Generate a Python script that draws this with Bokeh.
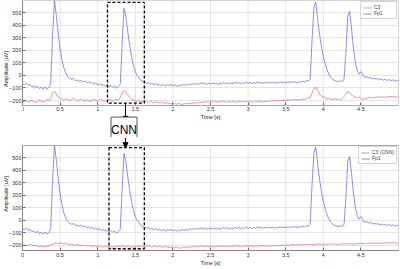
from bokeh.plotting import figure
from bokeh.layouts import column
from bokeh.models import Range1d, FixedTicker, BoxAnnotation, Arrow, NormalHead, Label
from bokeh.embed import file_html
from bokeh.resources import INLINE

time_s = [0.000,0.025,0.050,0.075,0.100,0.125,0.150,0.175,0.200,0.225,0.250,0.275,0.300,0.325,0.350,0.375,0.400,0.425,0.450,0.475,
0.500,0.525,0.550,0.575,0.600,0.625,0.650,0.675,0.700,0.725,0.750,0.775,0.800,0.825,0.850,0.875,0.900,0.925,0.950,0.975,
1.000,1.025,1.050,1.075,1.100,1.125,1.150,1.175,1.200,1.225,1.250,1.275,1.300,1.325,1.350,1.375,1.400,1.425,1.450,1.475,
1.500,1.525,1.550,1.575,1.600,1.625,1.650,1.675,1.700,1.725,1.750,1.775,1.800,1.825,1.850,1.875,1.900,1.925,1.950,1.975,
2.000,2.025,2.050,2.075,2.100,2.125,2.150,2.175,2.200,2.225,2.250,2.275,2.300,2.325,2.350,2.375,2.400,2.425,2.450,2.475,
2.500,2.525,2.550,2.575,2.600,2.625,2.650,2.675,2.700,2.725,2.750,2.775,2.800,2.825,2.850,2.875,2.900,2.925,2.950,2.975,
3.000,3.025,3.050,3.075,3.100,3.125,3.150,3.175,3.200,3.225,3.250,3.275,3.300,3.325,3.350,3.375,3.400,3.425,3.450,3.475,
3.500,3.525,3.550,3.575,3.600,3.625,3.650,3.675,3.700,3.725,3.750,3.775,3.800,3.825,3.850,3.875,3.900,3.925,3.950,3.975,
4.000,4.025,4.050,4.075,4.100,4.125,4.150,4.175,4.200,4.225,4.250,4.275,4.300,4.325,4.350,4.375,4.400,4.425,4.450,4.475,
4.500,4.525,4.550,4.575,4.600,4.625,4.650,4.675,4.700,4.725,4.750,4.775,4.800,4.825,4.850,4.875,4.900,4.925,4.950,4.975,
5.000]

fp1 = [-68,-75,-62,-80,-72,-90,-84,-98,-88,-105,-95,-108,-92,-110,-96,-70,320,600,480,330,
210,125,60,20,-8,-22,-30,-25,-42,-35,-48,-38,-52,-45,-58,-50,-62,-55,-70,-60,
-75,-66,-80,-72,-85,-78,-92,-80,-95,-84,-102,-88,-70,250,535,470,350,240,150,80,
30,0,-20,-40,-48,-55,-62,-58,-70,-62,-75,-66,-78,-70,-82,-72,-85,-74,-80,-70,
-84,-75,-86,-78,-82,-70,-80,-72,-78,-66,-75,-64,-72,-62,-70,-58,-68,-60,-72,-62,
-70,-58,-68,-60,-72,-62,-66,-55,-65,-58,-70,-60,-66,-54,-64,-56,-68,-58,-65,-52,
-62,-55,-66,-56,-63,-52,-60,-54,-64,-55,-62,-52,-60,-54,-62,-55,-60,-50,-58,-52,
-60,-50,-58,-48,-56,-50,-58,-48,-55,-46,-52,-42,-45,-30,280,540,585,450,330,230,
150,95,45,10,-15,-30,-40,-45,-50,-42,-48,-35,180,470,510,380,220,110,40,10,
30,5,-15,-10,-20,-15,-28,-22,-30,-25,-35,-28,-38,-30,-40,-32,-42,-35,-45,-38,
-42]

c3 = [-205,-210,-200,-212,-205,-198,-208,-215,-204,-196,-206,-212,-200,-192,-200,-185,-140,-125,-150,-172,
-180,-188,-195,-185,-192,-200,-190,-182,-195,-205,-196,-188,-198,-205,-194,-200,-208,-198,-190,-200,
-206,-196,-192,-202,-208,-196,-188,-200,-205,-195,-190,-198,-175,-140,-118,-130,-155,-175,-188,-196,
-200,-208,-200,-206,-212,-204,-210,-215,-206,-212,-218,-210,-214,-220,-212,-218,-224,-216,-222,-228,
-220,-226,-230,-222,-228,-232,-224,-228,-222,-226,-218,-224,-216,-222,-212,-218,-210,-216,-208,-214,
-206,-212,-204,-210,-214,-206,-212,-204,-210,-215,-206,-212,-205,-210,-214,-206,-210,-204,-212,-207,
-213,-206,-210,-214,-206,-211,-204,-209,-213,-205,-210,-202,-207,-200,-205,-198,-203,-196,-202,-195,
-200,-194,-199,-192,-198,-191,-196,-190,-195,-188,-193,-186,-180,-175,-140,-105,-95,-120,-148,-165,
-172,-178,-185,-182,-188,-192,-186,-192,-188,-194,-186,-170,-150,-130,-135,-155,-166,-172,-180,-170,
-186,-195,-178,-190,-172,-180,-174,-178,-170,-176,-168,-174,-170,-176,-168,-172,-166,-172,-168,-174,
-170]

c3_cnn = [-200,-196,-202,-198,-192,-197,-203,-199,-205,-210,-204,-208,-212,-206,-202,-196,-190,-185,-180,-186,
-178,-183,-188,-182,-190,-195,-188,-194,-199,-192,-198,-202,-196,-200,-205,-198,-203,-208,-201,-206,
-210,-204,-209,-213,-206,-211,-205,-210,-214,-207,-212,-206,-210,-203,-208,-212,-205,-210,-214,-207,
-211,-204,-208,-202,-207,-211,-204,-200,-206,-210,-203,-208,-212,-206,-210,-215,-208,-212,-218,-211,
-216,-220,-213,-218,-222,-215,-219,-212,-216,-210,-214,-207,-211,-204,-209,-202,-206,-210,-204,-209,
-203,-208,-212,-205,-210,-204,-208,-202,-207,-211,-204,-209,-203,-207,-201,-206,-210,-203,-208,-202,
-206,-200,-205,-209,-202,-207,-201,-205,-199,-204,-208,-201,-206,-200,-204,-198,-203,-197,-201,-196,
-200,-194,-199,-195,-192,-197,-193,-198,-192,-196,-190,-195,-191,-194,-189,-193,-188,-192,-187,-191,
-194,-189,-192,-187,-190,-185,-189,-193,-188,-191,-186,-190,-185,-188,-184,-189,-186,-190,-184,-187,
-182,-186,-181,-185,-180,-184,-179,-183,-178,-182,-180,-184,-179,-182,-177,-181,-178,-182,-176,-180,
-182]

x_ticks = [0, 0.5, 1, 1.5, 2, 2.5, 3, 3.5, 4, 4.5]
x_tick_labels = ["0", "0.5", "1", "1.5", "2", "2.5", "3", "3.5", "4", "4.5"]
y_ticks = [-200, -100, 0, 100, 200, 300, 400, 500]

# axes limits of each panel (amplitude)
Y_MIN, Y_MAX = -240, 598
# highlight windows (time, amplitude)
box_top = dict(left=1.13, right=1.62, bottom=-220, top=583)
box_bot = dict(left=1.15, right=1.62, bottom=-226, top=581)
arrow_x = 1.37
# extra room (in amplitude units) used for the connector between panels
TOP_EXT = -495      # lower end of the top panel canvas
BOT_EXT = 662       # upper end of the bottom panel canvas
CNN_X = 1.35
CNN_Y = -436        # centre of the "CNN" box (top panel coordinates)
ARROW1_END = -366
ARROW2_START = 662

FONT = "Liberation Sans"
BLUE = "#4545d2"
RED = "#dc5050"


def make_fig(height, y_lo, y_hi, bottom_border):
    p = figure(width=400, height=height, x_range=Range1d(0, 5), y_range=Range1d(y_lo, y_hi),
               output_backend="svg", toolbar_location=None,
               min_border_left=22, min_border_right=2, min_border_top=0,
               min_border_bottom=bottom_border)
    p.xaxis.ticker = FixedTicker(ticks=x_ticks)
    p.xaxis.major_label_overrides = {t: l for t, l in zip(x_ticks, x_tick_labels)}
    p.yaxis.ticker = FixedTicker(ticks=y_ticks)
    p.yaxis.bounds = (Y_MIN, Y_MAX)
    for ax in (p.xaxis[0], p.yaxis[0]):
        ax.major_label_text_font = FONT
        ax.major_label_text_font_size = "5.5px"
        ax.major_label_text_color = "#333333"
        ax.axis_label_text_font = FONT
        ax.axis_label_text_font_size = "5.5px"
        ax.axis_label_text_font_style = "normal"
        ax.axis_label_text_color = "#222222"
        ax.axis_label_text_line_height = 1.0
        ax.major_label_text_line_height = 1.0
        ax.major_tick_in = 3
        ax.major_tick_out = 0
        ax.minor_tick_line_color = None
        ax.axis_line_color = "#666666"
        ax.major_tick_line_color = "#666666"
    p.xaxis.major_label_standoff = 2
    p.xaxis.axis_label_standoff = 0
    p.yaxis.major_label_standoff = 1
    p.yaxis.axis_label_standoff = -3
    p.xaxis.axis_label = "Time [s]"
    p.yaxis.axis_label = "Amplitude [uV]"
    p.ygrid.ticker = FixedTicker(ticks=y_ticks)
    p.ygrid.grid_line_color = "#e4e4e4"
    p.xgrid.visible = False
    p.segment(x0=x_ticks, y0=[Y_MIN] * len(x_ticks), x1=x_ticks, y1=[Y_MAX] * len(x_ticks),
              line_color="#e4e4e4", line_width=1, level="underlay")
    p.outline_line_color = None
    p.add_layout(BoxAnnotation(left=0, right=5, bottom=Y_MIN, top=Y_MAX, fill_color=None,
                               line_color="#aaaaaa", line_alpha=1, line_width=1))
    p.background_fill_color = "white"
    p.border_fill_color = "white"
    return p


top = make_fig(137, TOP_EXT, Y_MAX, 0)
top.xaxis.fixed_location = Y_MIN
top.xaxis.major_label_standoff = 1
top.line(time_s, c3, line_color=RED, line_width=0.6, legend_label="C3")
top.line(time_s, fp1, line_color=BLUE, line_width=0.6, legend_label="Fp1")
top.add_layout(BoxAnnotation(fill_color=None, line_color="black", line_alpha=1, line_width=1.3,
                             line_dash="3 2", **box_top))
top.add_layout(Arrow(end=NormalHead(size=5, fill_color="black", line_color="black"),
                     x_start=arrow_x, y_start=box_top["bottom"], x_end=arrow_x, y_end=ARROW1_END,
                     line_color="black", line_width=1))
top.add_layout(Label(x=CNN_X, y=CNN_Y, text="CNN", text_font=FONT, text_font_size="12px",
                     text_align="center", text_baseline="middle", text_color="black",
                     text_line_height=1.0,
                     background_fill_color="white", border_line_color="#555555",
                     border_line_width=1, padding=(0, 6)))

bot = make_fig(132, Y_MIN, BOT_EXT, 19)
bot.line(time_s, c3_cnn, line_color=RED, line_width=0.6, legend_label="C3 (CNN)")
bot.line(time_s, fp1, line_color=BLUE, line_width=0.6, legend_label="Fp1")
bot.add_layout(BoxAnnotation(fill_color=None, line_color="black", line_alpha=1, line_width=1.3,
                             line_dash="3 2", **box_bot))
bot.add_layout(Arrow(end=NormalHead(size=5, fill_color="black", line_color="black"),
                     x_start=arrow_x, y_start=ARROW2_START, x_end=arrow_x, y_end=box_bot["top"],
                     line_color="black", line_width=1))

for p in (top, bot):
    lg = p.legend[0]
    lg.label_text_font = FONT
    lg.label_text_font_size = "5px"
    lg.label_height = 5
    lg.glyph_height = 5
    lg.glyph_width = 9
    lg.spacing = 0
    lg.padding = 2
    lg.margin = 1
    lg.border_line_color = "#aaaaaa"
    lg.label_standoff = 2
top.legend[0].location = "top_right"
bot.legend[0].location = (336, 86)

layout = column(top, bot, spacing=0)
open("out.html", "w").write(file_html(layout, INLINE))
